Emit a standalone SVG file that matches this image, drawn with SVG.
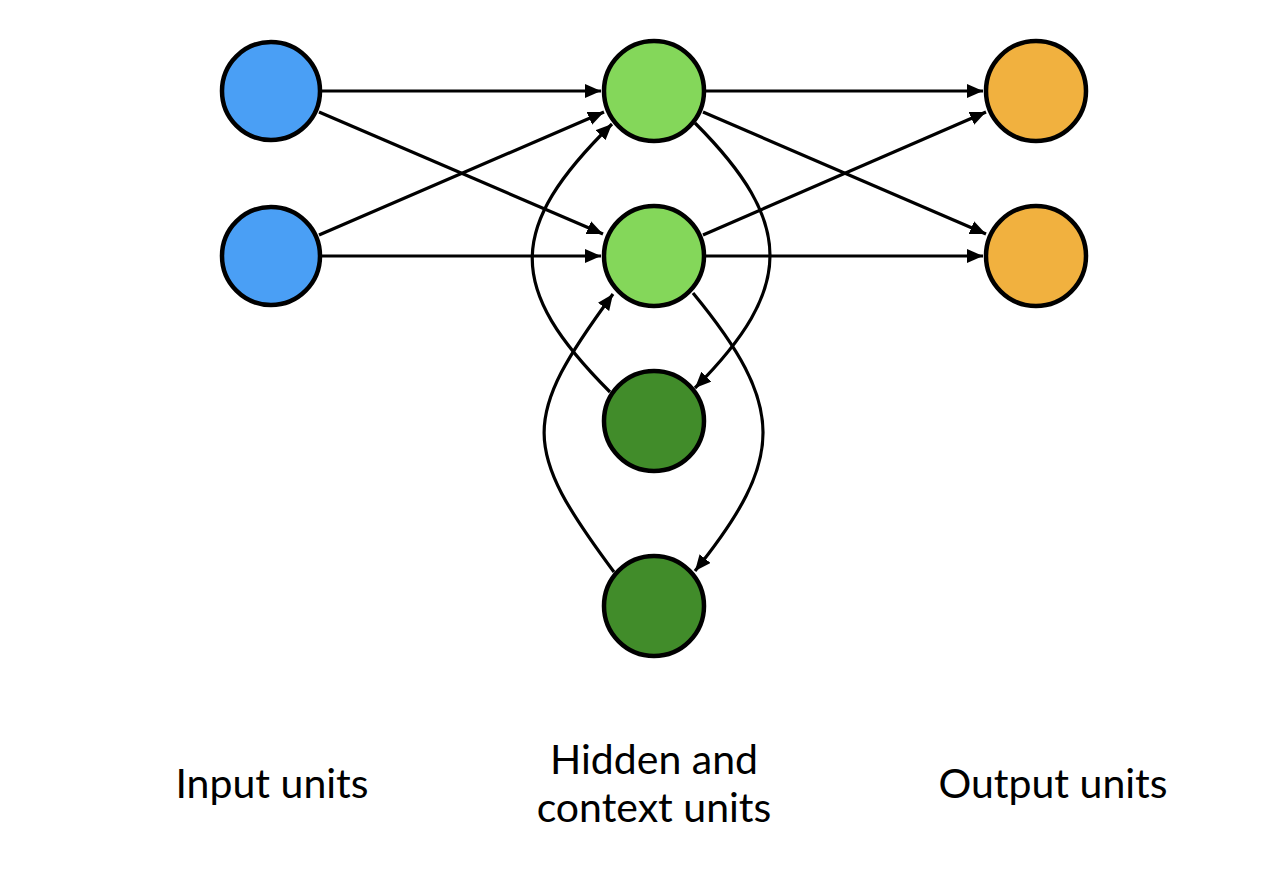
<svg xmlns="http://www.w3.org/2000/svg" width="1272" height="881" viewBox="0 0 1272 881">
  <style>
    .unit { stroke: #000; stroke-width: 4.5; }
    .input { fill: #4A9FF5; }
    .hidden { fill: #84D75A; }
    .context { fill: #418C2A; }
    .output { fill: #F1B13F; }
    .edge { fill: none; stroke: #000; stroke-width: 3.2; marker-end: url(#arrow); }
    .label { font-family: Lato, "Liberation Sans", sans-serif; font-size: 41px; fill: #000; text-anchor: middle; }
  </style>
  <defs>
    <marker id="arrow" markerUnits="userSpaceOnUse" markerWidth="17" markerHeight="14" refX="16" refY="7" orient="auto">
      <path d="M0,0 L16,7 L0,14 Z" fill="#000"/>
    </marker>
  </defs>
  <rect width="1272" height="881" fill="#fff"/>

  <!-- connectors -->
  <g id="connectors">
    <!-- input to hidden -->
    <path class="edge" d="M322,91 L601,91"/>
    <path class="edge" d="M319,112 L603,234"/>
    <path class="edge" d="M319,235 L604,112"/>
    <path class="edge" d="M322,256 L601,256"/>
    <!-- hidden to output -->
    <path class="edge" d="M706,91 L983,91"/>
    <path class="edge" d="M703,112 L986,234"/>
    <path class="edge" d="M703,235 L986,112"/>
    <path class="edge" d="M706,256 L983,256"/>
    <!-- hidden to context copies -->
    <path class="edge" d="M695,123 C795,223 795,288 695,388"/>
    <path class="edge" d="M693,293 C786,406 786,458 695,571"/>
    <!-- context back to hidden -->
    <path class="edge" d="M610,392 C506,288 506,228 612,124"/>
    <path class="edge" d="M614,572 C521,447 521,419 613,294"/>
  </g>

  <!-- nodes -->
  <g id="input-1"><circle class="unit input" cx="271" cy="91" r="49"/></g>
  <g id="input-2"><circle class="unit input" cx="271" cy="256" r="49"/></g>
  <g id="hidden-1"><circle class="unit hidden" cx="654" cy="91" r="50"/></g>
  <g id="hidden-2"><circle class="unit hidden" cx="654" cy="256" r="50"/></g>
  <g id="context-1"><circle class="unit context" cx="654" cy="421" r="50"/></g>
  <g id="context-2"><circle class="unit context" cx="654" cy="606" r="50"/></g>
  <g id="output-1"><circle class="unit output" cx="1036" cy="91" r="50"/></g>
  <g id="output-2"><circle class="unit output" cx="1036" cy="256" r="50"/></g>

  <!-- layer labels -->
  <g id="labels">
    <text class="label" x="272" y="798">Input units</text>
    <text class="label" x="654" y="774">Hidden and</text>
    <text class="label" x="654" y="822">context units</text>
    <text class="label" x="1053" y="798">Output units</text>
  </g>
</svg>
